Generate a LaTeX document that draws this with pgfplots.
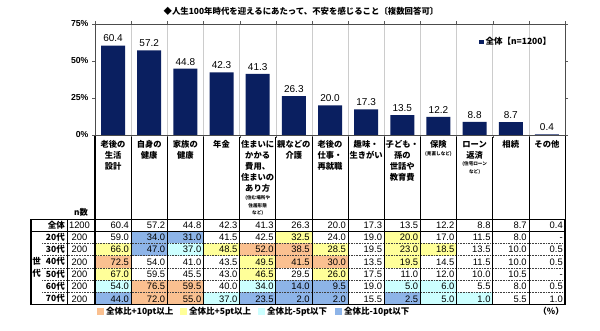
\documentclass[border=0pt]{standalone}
\usepackage{pgfplots}
\pgfplotsset{compat=1.18}
\usepackage{fontspec}
\setmainfont{Liberation Sans}
\newfontfamily\jp{Noto Sans CJK JP}
\definecolor{navy}{HTML}{0A1F60}
\definecolor{cO}{HTML}{FAC090}
\definecolor{cY}{HTML}{FFFF99}
\definecolor{cC}{HTML}{CCFFFF}
\definecolor{cB}{HTML}{8DB4E8}
\definecolor{cW}{HTML}{FFFFFF}
\newcommand\tabfont{\fontsize{9.4}{11}\selectfont}
\newcommand\labfont{\jp\bfseries\fontsize{8.3}{11}\selectfont}
\newcommand\notefont{\jp\bfseries\fontsize{4.6}{7.5}\selectfont}
\newcommand\tablerow[4]{% top, bottom, label, list
  \foreach \v/\c [count=\i from 0] in {#4} {
    \pgfmathsetmacro\xl{95+36.1538*\i}
    \pgfmathsetmacro\xr{95+36.1538*(\i+1)}
    \fill[c\c] (\xl,-#1) rectangle (\xr,-#2);
    \node[anchor=base east, font=\tabfont, inner sep=0pt] at ({\xr-2},{-(#1+#2)/2-3.4}) {\v};
  }
  \node[anchor=base east, font=\jp\bfseries\fontsize{8.5}{10}\selectfont, inner sep=0pt] at (65,{-(#1+#2)/2-3.2}) {#3};
}
\begin{document}
\begin{tikzpicture}[x=1pt,y=1pt]
\useasboundingbox (0,0) rectangle (600,-331);
% title
\node[font=\jp\bfseries\fontsize{8.4}{10}\selectfont, inner sep=0pt] at (301,-11) {◆人生100年時代を迎えるにあたって、不安を感じること〔複数回答可〕};
\begin{axis}[
  at={(95pt,-135pt)}, anchor=south west,
  scale only axis, width=470pt, height=111pt,
  xmin=-0.5, xmax=12.5, ymin=0, ymax=75,
  ytick={0,25,50,75},
  yticklabel={\pgfmathprintnumber{\tick}\%},
  yticklabel style={font=\bfseries\fontsize{8.7}{10}\selectfont},
  /pgf/number format/assume math mode=true,
  xtick={-0.5,0.5,1.5,2.5,3.5,4.5,5.5,6.5,7.5,8.5,9.5,10.5,11.5,12.5},
  xticklabels={},
  tick align=outside, major tick length=3pt,
  tick style={gray!70!black},
  xmajorgrids, major x grid style={gray!40},
  axis line style={gray!60!black},
  ybar, bar width=24pt,
  nodes near coords,
  every node near coord/.append style={font=\fontsize{10}{12}\selectfont, black,
    /pgf/number format/.cd, fixed, fixed zerofill, precision=1, assume math mode=true},
  legend style={at={(0.975,0.838)}, anchor=east, draw=none, fill=none,
    font=\jp\bfseries\fontsize{8.5}{10}\selectfont, inner sep=0pt},
  legend image code/.code={\fill[navy] (0pt,-2.2pt) rectangle (4.5pt,2.2pt);},
]
\addplot[fill=navy, draw=none] coordinates {
  (0,60.4) (1,57.2) (2,44.8) (3,42.3) (4,41.3) (5,26.3) (6,20.0)
  (7,17.3) (8,13.5) (9,12.2) (10,8.8) (11,8.7) (12,0.4)};
\addlegendentry{全体【n=1200】}
\end{axis}
% category labels
\foreach \t [count=\i from 0] in {
  老後の\\生活\\設計, 自身の\\健康, 家族の\\健康, 年金,
  住まいに\\かかる\\費用、\\住まいの\\あり方, 親などの\\介護,
  老後の\\仕事・\\再就職, 趣味・\\生きがい, 子ども・\\孫の\\世話や\\教育費,
  保険, ローン\\返済, 相続, その他} {
  \node[anchor=north, align=center, font=\labfont, inner sep=0pt] at ({95+36.1538*(\i+0.5)},-140.5) {\t};
}
\node[align=center, font=\notefont, inner sep=0pt, anchor=north] at ({95+36.1538*4.5},-195.5) {(住む場所や\\住居形態\\など)};
\node[font=\notefont, inner sep=0pt] at ({95+36.1538*9.5},-154) {(見直しなど)};
\node[align=center, font=\notefont, inner sep=0pt, anchor=north] at ({95+36.1538*10.5},-161.5) {(住宅ローン\\など)};
\node[font=\jp\bfseries\fontsize{8.3}{10}\selectfont, inner sep=0pt] at (81,-212) {n数};
% table rows
\tablerow{219.5}{231}{全体}{60.4/W,57.2/W,44.8/W,42.3/W,41.3/W,26.3/W,20.0/W,17.3/W,13.5/W,12.2/W,8.8/W,8.7/W,0.4/W}
\tablerow{231}{243.3}{20代}{59.0/W,34.0/B,31.0/B,41.5/W,42.5/W,32.5/Y,24.0/W,19.0/W,20.0/Y,17.0/W,11.5/W,8.0/W,-/W}
\tablerow{243.3}{255.6}{30代}{66.0/Y,47.0/B,37.0/C,48.5/Y,52.0/O,38.5/O,28.5/Y,19.5/W,23.0/Y,18.5/Y,13.5/W,10.0/W,0.5/W}
\tablerow{255.6}{267.9}{40代}{72.5/O,54.0/W,41.0/W,43.5/W,49.5/Y,41.5/O,30.0/O,13.5/W,19.5/Y,14.5/W,11.5/W,10.0/W,0.5/W}
\tablerow{267.9}{280.2}{50代}{67.0/Y,59.5/W,45.5/W,43.0/W,46.5/Y,29.5/W,26.0/Y,17.5/W,11.0/W,12.0/W,10.0/W,10.5/W,-/W}
\tablerow{280.2}{292.5}{60代}{54.0/C,76.5/O,59.5/O,40.0/W,34.0/C,14.0/B,9.5/B,19.0/W,5.0/C,6.0/C,5.5/W,8.0/W,0.5/W}
\tablerow{292.5}{304.8}{70代}{44.0/B,72.0/O,55.0/O,37.0/C,23.5/B,2.0/B,2.0/B,15.5/W,2.5/B,5.0/C,1.0/C,5.5/W,1.0/W}
% n column
\foreach \n/\yc in {1200/225.2,200/237.2,200/249.5,200/261.7,200/274,200/286.4,200/298.7} {
  \node[anchor=base, font=\tabfont, inner sep=0pt] at (79.5,{-\yc-3.4}) {\n};
}
% 世代
\node[font=\jp\bfseries\fontsize{8.5}{10}\selectfont, inner sep=0pt] at (36.5,-261.5) {世};
\node[font=\jp\bfseries\fontsize{8.5}{10}\selectfont, inner sep=0pt] at (36.5,-273) {代};
% dotted row separators
\foreach \yy in {243.3,255.6,267.9,280.2,292.5} {
  \draw[black!75, line width=0.6pt, dash pattern=on 0.8pt off 0.8pt] (42,-\yy) -- (565,-\yy);
}
% vertical lines
\foreach \k in {1,...,12} {
  \draw[black, line width=0.7pt] ({95+36.1538*\k},-137) -- ({95+36.1538*\k},-304.8);
}
\draw[black, line width=1.1pt] (95,-136) -- (95,-304.8);
\draw[black, line width=0.8pt] (565,-136) -- (565,-219.5);
\draw[black, line width=0.7pt] (67,-219.5) -- (67,-304.8);
\draw[black, line width=0.8pt] (31,-231) -- (565,-231);
\draw[black, line width=1.2pt] (31,-219.5) rectangle (565,-304.8);
% bottom legend
\foreach \xx/\c/\t in {97/cO/全体比+10pt以上, 180/cY/全体比+5pt以上, 258/cC/全体比-5pt以下, 335/cB/全体比-10pt以下} {
  \fill[\c] (\xx,-308.2) rectangle ({\xx+7},-315.2);
  \node[anchor=west, font=\jp\bfseries\fontsize{8.5}{10}\selectfont, inner sep=0pt] at ({\xx+9},-311.7) {\t};
}
\node[anchor=east, font=\jp\bfseries\fontsize{8.5}{10}\selectfont, inner sep=0pt] at (564,-311.7) {（\%）};
\end{tikzpicture}
\end{document}
